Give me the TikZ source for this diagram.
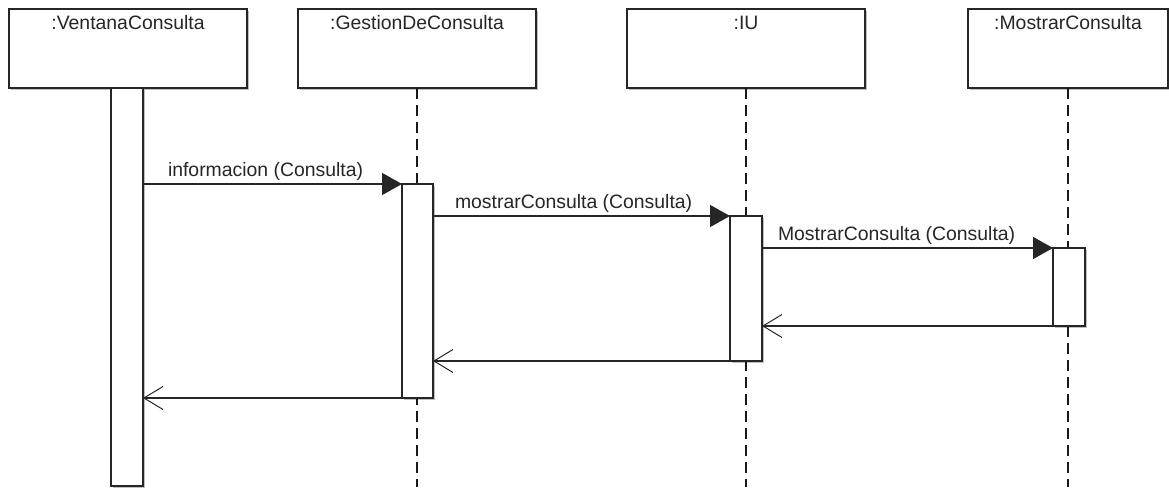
\documentclass[tikz,border=0pt]{standalone}
\usepackage{fontspec}
\setmainfont{Liberation Sans}
\usetikzlibrary{arrows.meta,shadows}
\begin{document}
\begin{tikzpicture}[x=1pt,y=-1pt,
  every node/.style={inner sep=0pt, outer sep=0pt},
  ink/.style={draw=black!85, line width=1.4pt},
  shade/.style={drop shadow={shadow xshift=2pt, shadow yshift=-2pt, opacity=0.25, fill=black}},
  objbox/.style={ink, fill=white, shade, rectangle, anchor=north west, minimum height=79pt},
  actbox/.style={ink, fill=white, shade, rectangle, anchor=north west, minimum width=32pt},
  title/.style={font=\fontsize{19.4}{23}\selectfont, text=black!85, anchor=base},
  msglbl/.style={font=\fontsize{19.4}{23}\selectfont, text=black!85, anchor=base west, pos=0, yshift=8pt},
  life/.style={draw=black!90, line width=1.6pt, dash pattern=on 11pt off 6pt},
  call/.style={draw=black!85, line width=1.4pt, -{Triangle[length=20pt,width=22pt]}},
  ret/.style={draw=black!85, line width=1.4pt, -{Straight Barb[length=19pt,width=23pt,line width=1pt]}}
]
\useasboundingbox (0,0) rectangle (1169,487);
\coordinate (bot) at (0,487);

% object heads
\node[objbox, minimum width=238pt] (b1) at (9,9) {};
\node[objbox, minimum width=238pt] (b2) at (298,9) {};
\node[objbox, minimum width=238pt] (b3) at (627,9) {};
\node[objbox, minimum width=200pt] (b4) at (968,9) {};
\node[title] (t1) at ([yshift=-21pt]b1.north) {:VentanaConsulta};
\node[title] (t2) at ([yshift=-21pt]b2.north) {:GestionDeConsulta};
\node[title] (t3) at ([yshift=-21pt]b3.north) {:IU};
\node[title] (t4) at ([yshift=-21pt]b4.north) {:MostrarConsulta};

% lifelines
\draw[life] (b1.south) -- (b1.south |- bot);
\draw[life] (b2.south) -- (b2.south |- bot);
\draw[life] (b3.south) -- (b3.south |- bot);
\draw[life] (b4.south) -- (b4.south |- bot);

% activation bars
\node[actbox, minimum height=398pt] (a1) at (111,88) {};
\node[actbox, minimum width=31pt, minimum height=214pt] (a2) at (402,184) {};
\node[actbox, minimum height=145pt] (a3) at (730,216) {};
\node[actbox, minimum height=78pt] (a4) at (1053,248) {};

% calls
\draw[call] (a1.east |- a2.north) -- node[msglbl, xshift=25pt] {informacion (Consulta)} (a2.north west);
\draw[call] (a2.east |- a3.north) -- node[msglbl, xshift=22pt] {mostrarConsulta (Consulta)} (a3.north west);
\draw[call] (a3.east |- a4.north) -- node[msglbl, xshift=16pt] {MostrarConsulta (Consulta)} (a4.north west);

% returns
\draw[ret] (a4.south west) -- (a3.east |- a4.south);
\draw[ret] (a3.south west) -- (a2.east |- a3.south);
\draw[ret] (a2.south west) -- (a1.east |- a2.south);
\end{tikzpicture}
\end{document}
